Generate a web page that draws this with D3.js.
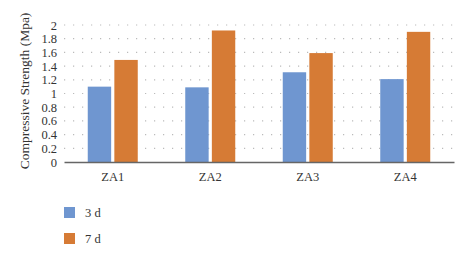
<!DOCTYPE html>
<html>
<head>
<meta charset="utf-8">
<script src="https://cdn.jsdelivr.net/npm/d3@7"></script>
<style>
  body { margin: 0; background: #fff; }
  text { font-family: "Liberation Serif", "DejaVu Serif", serif; fill: #333; }
</style>
</head>
<body>
<div id="chart"></div>
<script>
// values
const categories = ["ZA1", "ZA2", "ZA3", "ZA4"];
const seriesNames = ["3 d", "7 d"];
const day3 = [1.10, 1.09, 1.31, 1.21];
const day7 = [1.49, 1.92, 1.59, 1.90];
const yTicks = [0, 0.2, 0.4, 0.6, 0.8, 1, 1.2, 1.4, 1.6, 1.8, 2];

const colors = ["#6f96d0", "#d67b35"];
const width = 474, height = 261;
const margin = { top: 25, right: 20, bottom: 99, left: 64 };
const innerW = 454 - margin.left;
const innerH = 162 - margin.top;

const svg = d3.select("#chart").append("svg")
    .attr("width", width)
    .attr("height", height);

const g = svg.append("g")
    .attr("transform", `translate(${margin.left},${margin.top})`);

const x = d3.scaleBand().domain(categories).range([0, innerW]).paddingInner(0).paddingOuter(0);
const x1 = d3.scaleBand().domain(seriesNames).range([0, 50]).paddingInner(0.12);
const y = d3.scaleLinear().domain([0, 2]).range([innerH, 0]);

// dotted gridlines
g.selectAll(".grid").data(yTicks.filter(d => d > 0)).enter()
    .append("line")
    .attr("class", "grid")
    .attr("x1", 0).attr("x2", innerW)
    .attr("y1", d => y(d)).attr("y2", d => y(d))
    .attr("stroke", "#bbb")
    .attr("stroke-width", 1.2)
    .attr("stroke-dasharray", "1.2,7.8");

const data = categories.map((c, i) => ({ cat: c, vals: [day3[i], day7[i]] }));

const groups = g.selectAll(".cat").data(data).enter()
    .append("g")
    .attr("transform", d => `translate(${x(d.cat) + x.bandwidth() / 2 - 25},0)`);

groups.selectAll("rect").data(d => d.vals.map((v, j) => ({ key: seriesNames[j], v, j }))).enter()
    .append("rect")
    .attr("x", d => x1(d.key))
    .attr("width", x1.bandwidth())
    .attr("y", d => y(d.v))
    .attr("height", d => innerH - y(d.v))
    .attr("fill", d => colors[d.j]);

// y axis labels
const yAxis = g.append("g").call(d3.axisLeft(y).tickValues(yTicks).tickSize(0).tickPadding(7).tickFormat(d => d));
yAxis.select(".domain").remove();
yAxis.selectAll("text").style("font-size", "12.5px").attr("fill", "#333").style("font-family", "Liberation Serif, serif");

// x axis
const xAxis = g.append("g")
    .attr("transform", `translate(0,${innerH})`)
    .call(d3.axisBottom(x).tickSize(0).tickPadding(10));
xAxis.select(".domain").attr("stroke", "#666").attr("stroke-width", 1.5);
xAxis.selectAll("text").style("font-size", "12.5px").attr("fill", "#333").style("font-family", "Liberation Serif, serif");

// axis title
svg.append("text")
    .attr("transform", `translate(29,91) rotate(-90)`)
    .attr("text-anchor", "middle")
    .style("font-size", "13.5px")
    .text("Compressive Strength (Mpa)");

// legend
const legend = svg.append("g").attr("transform", "translate(64,207)");
seriesNames.forEach((name, i) => {
    const row = legend.append("g").attr("transform", `translate(0,${i * 26})`);
    row.append("rect").attr("width", 11).attr("height", 11).attr("fill", colors[i]);
    row.append("text").attr("x", 21).attr("y", 9.5)
        .style("font-size", "12.5px")
        .text(name);
});
</script>
</body>
</html>
